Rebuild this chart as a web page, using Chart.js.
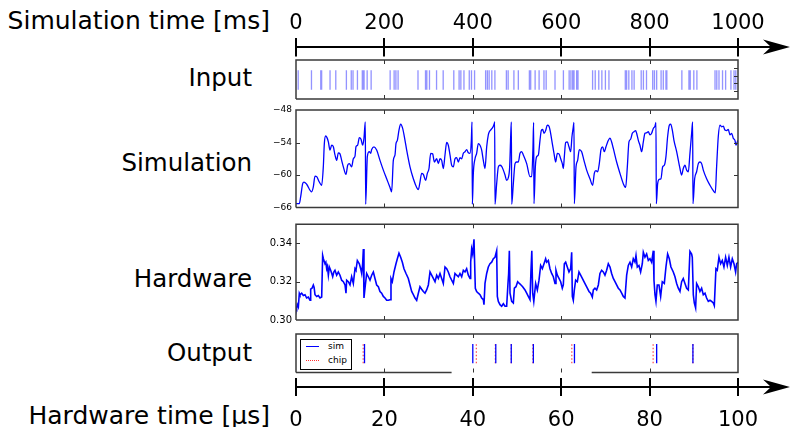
<!DOCTYPE html>
<html><head><meta charset="utf-8">
<script src="https://cdn.jsdelivr.net/npm/chart.js@4.4.0/dist/chart.umd.min.js"></script>
<style>
html,body{margin:0;padding:0;background:#fff;}
body{width:791px;height:427px;overflow:hidden;position:relative;font-family:"DejaVu Sans",sans-serif;color:#000;}
canvas{position:absolute;left:0;}
.lbl{position:absolute;right:539px;font-size:24.5px;line-height:24px;white-space:nowrap;}
.ttl{position:absolute;right:521px;font-size:25px;line-height:24px;white-space:nowrap;}
#leg{position:absolute;left:300px;top:339px;width:50px;height:29px;border:1px solid #000;background:#fff;font-size:9px;line-height:9px;}
#leg .s{position:absolute;left:5px;width:13px;height:0;}
#leg .t{position:absolute;left:27px;}
</style></head><body>

<div class="ttl" style="top:9px">Simulation time [ms]</div>
<div class="lbl" style="top:66px">Input</div>
<div class="lbl" style="top:151px">Simulation</div>
<div class="lbl" style="top:267px">Hardware</div>
<div class="lbl" style="top:341px">Output</div>
<div class="ttl" style="top:404px">Hardware time [µs]</div>

<canvas id="cTop" width="791" height="62" style="top:0px"></canvas>
<canvas id="cIn" width="791" height="50" style="top:54px"></canvas>
<canvas id="cSim" width="791" height="120" style="top:100px"></canvas>
<canvas id="cHw" width="791" height="116" style="top:214px"></canvas>
<canvas id="cOut" width="791" height="50" style="top:328px"></canvas>
<canvas id="cBot" width="791" height="57" style="top:370px"></canvas>

<div id="leg">
  <div class="s" style="top:6px;border-top:1.3px solid #0000ff"></div><span class="t" style="top:2px">sim</span>
  <div class="s" style="top:20px;border-top:1.2px dotted #ff3030"></div><span class="t" style="top:16px">chip</span>
</div>

<script>
// ---------------- DATA ----------------
const topTicks = [0, 200, 400, 600, 800, 1000];      // simulation time [ms]
const botTicks = [0, 20, 40, 60, 80, 100];           // hardware time [µs]
const simTicks = [-66, -60, -54, -48];               // membrane potential (simulation)
const hwTicks  = [0.30, 0.32, 0.34];                 // hardware membrane voltage

// input spike times [ms]
const inputSpikes = [5,35,56,58,77,90,114,125,129,139,150,152,154,161,170,213,222,226,231,276,293,296,302,318,333,
  357,369,373,380,392,397,404,429,433,437,443,450,476,480,493,503,528,531,541,550,561,566,586,605,618,622,626,629,635,638,
  671,677,685,692,700,708,745,748,753,760,765,781,786,793,807,811,816,826,831,837,839,873,889,892,900,907,948,952,957,965,972,984,991,995];

// output spikes [µs]
const outSim  = [15.5, 40.0, 45.2, 48.7, 53.7, 63.0, 81.6, 89.8];
const outChip = [15.2, 40.8, 45.1, 48.7, 53.6, 62.4, 80.8, 89.8];

// simulated membrane potential: [time ms, mV]
const simTrace = [[0,-65.3],[7.5,-65.3],[10.6,-64.0],[15.1,-61.6],[18.1,-61.3],[24.1,-61.7],[35.4,-63.1],[39.2,-62.2],[43.0,-60.2],[46.8,-60.3],[52.8,-61.3],[58.1,-61.9],[61.8,-58.5],[64.1,-54.2],[67.1,-52.8],[70.1,-53.1],[73.2,-53.9],[76.9,-55.4],[80.7,-54.5],[84.5,-54.8],[88.2,-56.3],[92.0,-57.3],[95.8,-55.9],[99.5,-56.1],[103.3,-57.3],[107.1,-58.5],[113.1,-59.9],[116.9,-58.2],[120.7,-57.9],[125.9,-58.5],[129.7,-57.0],[133.5,-56.5],[135.7,-54.8],[139.5,-54.5],[143.3,-53.1],[147.1,-53.4],[150.8,-54.5],[153.8,-53.2],[156.8,-50.2],[157.6,-65.4],
[161.4,-56.6],[165.9,-55.7],[168.9,-56.0],[171.2,-55.3],[176.5,-54.8],[182.5,-55.4],[190.0,-57.3],[197.6,-59.1],[205.1,-60.7],[212.7,-62.3],[216.4,-63.1],[220.2,-57.3],[224.0,-56.3],[226.2,-54.2],[229.3,-53.6],[233.0,-51.7],[236.8,-50.6],[241.3,-51.4],[246.6,-53.6],[250.4,-55.4],[257.9,-58.5],[265.5,-60.7],[273.0,-62.3],[276.8,-62.7],[280.5,-61.3],[284.3,-59.7],[288.1,-59.9],[293.4,-61.0],[297.1,-59.7],[300.9,-58.8],[304.7,-56.0],[309.2,-56.1],[313.0,-57.6],[318.3,-57.0],[322.0,-57.9],[325.8,-57.0],[329.6,-57.3],[333.3,-58.8],[337.1,-56.3],[340.9,-54.0],[344.6,-54.5],[348.4,-56.3],[352.2,-58.2],[356.0,-58.5],[359.7,-57.0],[363.5,-56.8],[367.3,-57.6],[371.0,-56.8],[374.8,-57.0],[378.6,-56.0],[382.4,-55.7],[386.1,-55.3],[389.9,-55.9],[393.7,-56.0],[396.7,-53.6],[398.2,-50.2],[399.0,-65.4],
[401.2,-59.7],[405.0,-57.0],[408.7,-56.0],[412.5,-54.2],[416.3,-54.5],[420.1,-55.4],[423.8,-57.3],[427.6,-58.8],[431.4,-54.8],[435.1,-52.6],[437.4,-52.0],[440.4,-51.7],[443.4,-51.4],[446.5,-51.0],[448.7,-50.5],[449.5,-50.2],[450.2,-65.4],
[454.0,-61.6],[457.8,-58.5],[461.5,-58.2],[465.3,-58.4],[469.1,-59.1],[472.9,-60.0],[476.6,-61.0],[480.4,-60.5],[483.4,-58.5],[485.7,-52.9],[487.2,-50.2],[488.0,-65.4],
[491.7,-61.6],[495.5,-57.9],[499.2,-57.6],[503.0,-57.6],[506.8,-56.0],[510.6,-55.7],[514.3,-56.3],[521.9,-57.9],[529.4,-60.3],[533.2,-60.3],[536.0,-55.4],[537.6,-50.3],[538.4,-65.3],
[541.5,-58.5],[544.5,-56.6],[548.3,-56.3],[552.0,-53.6],[555.0,-51.8],[558.1,-51.6],[561.1,-52.3],[564.8,-51.8],[568.6,-50.8],[572.4,-51.0],[576.1,-52.3],[579.9,-54.2],[583.7,-56.0],[587.5,-57.6],[591.2,-56.0],[595.0,-56.1],[598.8,-57.0],[602.5,-57.9],[604.8,-58.8],[607.1,-56.6],[610.1,-54.0],[613.8,-53.9],[617.6,-54.8],[621.4,-55.7],[624.4,-52.9],[627.4,-51.1],[628.9,-50.3],[629.7,-65.3],
[633.5,-58.5],[637.2,-57.3],[641.0,-55.3],[646.3,-55.7],[651.5,-57.3],[657.6,-59.1],[665.1,-60.7],[671.2,-61.9],[674.9,-59.7],[678.7,-59.2],[682.5,-59.4],[686.2,-57.9],[690.0,-55.3],[693.8,-54.8],[697.5,-55.7],[701.3,-54.8],[705.1,-53.9],[710.4,-53.2],[714.1,-53.9],[717.9,-55.1],[725.4,-57.6],[733.0,-59.7],[740.5,-61.6],[745.8,-62.3],[749.6,-58.5],[753.3,-53.9],[757.1,-53.4],[760.9,-52.3],[764.6,-52.0],[768.4,-51.8],[770.7,-52.3],[774.5,-53.6],[778.2,-54.5],[782.0,-55.7],[785.8,-53.9],[789.5,-52.3],[793.3,-52.2],[797.1,-52.0],[800.8,-52.6],[804.6,-52.3],[808.4,-51.4],[812.2,-51.0],[814.4,-50.3],[815.2,-65.3],
[818.2,-61.6],[821.9,-60.8],[825.7,-60.7],[829.5,-58.5],[833.3,-58.2],[837.0,-56.6],[840.8,-52.9],[844.6,-50.8],[847.6,-50.6],[851.4,-51.7],[855.1,-53.6],[861.2,-55.7],[868.7,-58.8],[872.5,-60.0],[876.2,-58.8],[880.0,-58.2],[883.8,-59.1],[887.6,-59.4],[891.3,-56.0],[895.1,-52.3],[897.4,-50.2],[898.1,-65.3],
[901.9,-60.7],[906.4,-59.4],[910.2,-57.9],[913.9,-57.6],[917.7,-57.9],[921.5,-59.1],[929.0,-60.7],[936.6,-61.9],[944.1,-62.9],[948.6,-63.3],[951.6,-58.5],[955.4,-52.9],[959.2,-50.8],[962.9,-51.1],[966.7,-51.0],[970.5,-51.7],[974.3,-51.8],[978.0,-51.6],[981.8,-52.6],[985.6,-52.3],[989.3,-53.2],[993.1,-53.6],[995.4,-54.5],[998.4,-53.9],[1000,-53.6]];

// hardware membrane voltage: [time ms (scaled), V]
const hwTrace = [[0,0.3072],[1.5,0.3063],[3,0.3080],[5.3,0.3068],[7.5,0.3140],[9,0.3132],[12.8,0.3140],[16.6,0.3128],[20.4,0.3132],[24.1,0.3115],[27.9,0.3120],[31.7,0.3103],[33.2,0.3161],[36.2,0.3166],[39.2,0.3183],[41,0.3170],[43,0.3132],[46.8,0.3123],[50.5,0.3128],[54.3,0.3115],[58.1,0.3120],[60.3,0.3337],[62,0.3320],[65.6,0.3294],[67.5,0.3302],[69.4,0.3268],[71,0.3280],[73.2,0.3234],[75.4,0.3277],[78.4,0.3260],[80.5,0.3245],[83,0.3226],[85.5,0.3250],[88.2,0.3260],[92,0.3234],[95.8,0.3251],[99.5,0.3234],[103.3,0.3208],[107.1,0.3200],[110.9,0.3183],[113.1,0.3140],[114.6,0.3208],[118.4,0.3200],[122.2,0.3183],[125.9,0.3226],[129.7,0.3191],[133.5,0.3268],[135.7,0.3260],[138.8,0.3311],[143.3,0.3294],[146.3,0.3268],[148.6,0.3243],[150.8,0.3294],[152.4,0.3371],[153.8,0.3115],
[156.9,0.3183],[159.9,0.3243],[163.7,0.3226],[167.4,0.3208],[171.2,0.3234],[175,0.3251],[178.7,0.3217],[182.5,0.3183],[186.3,0.3174],[190,0.3149],[193.8,0.3140],[197.6,0.3123],[201.4,0.3115],[205.1,0.3103],[208.9,0.3103],[212.7,0.3106],[214.9,0.3217],[217.9,0.3200],[221.7,0.3251],[226.2,0.3294],[229.3,0.3320],[233,0.3349],[236.8,0.3328],[240.6,0.3302],[244.3,0.3268],[248.9,0.3243],[254.1,0.3217],[257.9,0.3183],[261.7,0.3149],[265.5,0.3132],[269.2,0.3115],[273,0.3103],[276.8,0.3140],[280.5,0.3174],[284.3,0.3161],[288.1,0.3149],[291.9,0.3140],[295.6,0.3157],[299.4,0.3183],[303.2,0.3251],[306.9,0.3234],[310.7,0.3217],[314.5,0.3200],[318.3,0.3234],[322,0.3217],[325.8,0.3243],[329.6,0.3217],[333.3,0.3191],[337.1,0.3277],[340.9,0.3268],[344.6,0.3251],[348.4,0.3226],[352.2,0.3208],[356,0.3191],[359.7,0.3243],[363.5,0.3234],[367.3,0.3226],[371,0.3243],[374.8,0.3226],[378.6,0.3260],[382.4,0.3251],[386.1,0.3268],[389.9,0.3234],[393.7,0.3217],[395.2,0.3302],[397.4,0.3371],[399.7,0.3345],[402.7,0.3422],[405.7,0.3166],
[408.7,0.3149],[412.5,0.3140],[416.3,0.3132],[420.1,0.3115],[423.8,0.3106],[425.3,0.3080],[427.6,0.3191],[431.4,0.3243],[435.1,0.3277],[438.9,0.3294],[442.7,0.3302],[446.5,0.3320],[450.2,0.3328],[454,0.3362],[455.5,0.3123],[457.8,0.3097],[461.5,0.3080],[465.3,0.3072],[469.1,0.3085],[472.9,0.3072],[476.6,0.3072],[479.6,0.3191],[481.1,0.3243],[482.7,0.3362],[484.2,0.3140],[487.9,0.3097],[491.7,0.3089],[494,0.3166],[497.7,0.3174],[501.5,0.3200],[505.3,0.3191],[509.1,0.3183],[512.8,0.3174],[518.1,0.3157],[521.9,0.3140],[525.6,0.3123],[529.4,0.3106],[531.5,0.3250],[533.5,0.3362],[535.5,0.3140],[538,0.3097],
[542.2,0.3191],[546,0.3157],[549.8,0.3208],[553.5,0.3285],[557.3,0.3268],[561.1,0.3294],[564.8,0.3320],[567.1,0.3302],[570.9,0.3311],[574.6,0.3268],[578.4,0.3243],[582.2,0.3226],[586,0.3191],[588.2,0.3260],[591.2,0.3234],[595,0.3217],[598.8,0.3200],[602.5,0.3166],[604.8,0.3183],[607.1,0.3294],[610.1,0.3302],[613.8,0.3277],[617.6,0.3251],[621.4,0.3268],[623.7,0.3354],[625.2,0.3123],[627.4,0.3103],[629.7,0.3157],[632.7,0.3208],[636.5,0.3200],[640.2,0.3251],[644,0.3234],[647.8,0.3217],[651.5,0.3200],[655.3,0.3183],[659.1,0.3166],[662.9,0.3149],[666.6,0.3140],[670.4,0.3120],[672.7,0.3157],[676.4,0.3166],[680.2,0.3157],[684,0.3183],[687.7,0.3243],[691.5,0.3260],[695.3,0.3251],[699,0.3234],[702.8,0.3260],[706.6,0.3294],[710.4,0.3277],[714.1,0.3243],[717.9,0.3217],[721.7,0.3200],[725.4,0.3183],[729.2,0.3166],[733,0.3157],[736.8,0.3140],[740.5,0.3123],[744.3,0.3115],[748.1,0.3234],[751.8,0.3285],[755.6,0.3302],[759.4,0.3277],[763.1,0.3320],[766.9,0.3302],[769.2,0.3337],[772.2,0.3277],[775.9,0.3285],[779.7,0.3251],[783.5,0.3294],[785.8,0.3354],[789.5,0.3328],[793.3,0.3345],[797.1,0.3311],[800.8,0.3320],[804.6,0.3302],[808.4,0.3362],[809.9,0.3208],[812.2,0.3132],[814.4,0.3097],
[817.4,0.3183],[821.2,0.3183],[825,0.3123],[828.7,0.3200],[833.3,0.3191],[837,0.3277],[840.8,0.3345],[844.6,0.3320],[848.3,0.3277],[853.6,0.3251],[857.4,0.3226],[861.2,0.3191],[864.9,0.3166],[868.7,0.3149],[872.5,0.3200],[876.2,0.3217],[880,0.3191],[883.8,0.3166],[887.6,0.3157],[891.3,0.3359],[895.1,0.3345],[896.6,0.3328],[898.9,0.3132],[901.1,0.3089],[904.1,0.3063],[906.4,0.3191],[910.2,0.3174],[913.9,0.3149],[917.7,0.3166],[921.5,0.3132],[925.3,0.3140],[929,0.3115],[932.8,0.3097],[936.6,0.3103],[940.3,0.3097],[944.1,0.3089],[946.4,0.3075],[950.1,0.3268],[953.1,0.3260],[956.9,0.3328],[960.7,0.3294],[964.5,0.3311],[968.2,0.3277],[972,0.3328],[975.8,0.3285],[979.5,0.3328],[983.3,0.3277],[987.1,0.3320],[990.9,0.3294],[994.6,0.3251],[996.9,0.3294],[1000,0.3302]];

// ---------------- RENDERING ----------------
const FONT = '"DejaVu Sans", sans-serif';
Chart.defaults.font.family = FONT;
Chart.defaults.color = '#000';
const RASTER_LO = 0.24, RASTER_HI = 0.74;

function rasterData(times) {
  const d = [];
  times.forEach(t => { d.push({x: t, y: RASTER_LO}, {x: t, y: RASTER_HI}, {x: t, y: null}); });
  return d;
}
const toXY = arr => arr.map(p => ({x: p[0], y: p[1]}));

const arrowPlugin = {
  id: 'arrowAxis',
  afterDraw(chart, args, o) {
    const a = chart.chartArea, ctx = chart.ctx;
    const y = o.side === 'top' ? a.top : a.bottom;
    const tip = chart.width - 1;
    ctx.save();
    ctx.strokeStyle = '#000'; ctx.lineWidth = 2;
    ctx.beginPath(); ctx.moveTo(a.right, y); ctx.lineTo(tip - 18, y); ctx.stroke();
    ctx.fillStyle = '#000';
    ctx.beginPath();
    ctx.moveTo(tip, y); ctx.lineTo(tip - 27, y - 7.5); ctx.lineTo(tip - 19, y); ctx.lineTo(tip - 27, y + 7.5);
    ctx.closePath(); ctx.fill();
    ctx.restore();
  }
};

const framePlugin = {
  id: 'frame',
  afterDatasetsDraw(chart, args, o) {
    const a = chart.chartArea, ctx = chart.ctx, xs = chart.scales.x, ys = chart.scales.y;
    ctx.save();
    ctx.strokeStyle = '#333'; ctx.lineWidth = 1;
    ctx.beginPath();
    (o.xTicks || []).forEach(v => {
      const px = Math.round(xs.getPixelForValue(v)) + 0.5;
      ctx.moveTo(px, a.top); ctx.lineTo(px, a.top + 4);
      ctx.moveTo(px, a.bottom); ctx.lineTo(px, a.bottom - 4);
    });
    (o.yTicksL || []).forEach(v => {
      const py = Math.round(ys.getPixelForValue(v)) + 0.5;
      ctx.moveTo(a.left, py); ctx.lineTo(a.left + 4, py);
    });
    (o.yTicksR || []).forEach(v => {
      const py = Math.round(ys.getPixelForValue(v)) + 0.5;
      ctx.moveTo(a.right, py); ctx.lineTo(a.right - 4, py);
    });
    ctx.stroke();
    ctx.strokeStyle = '#3a3a3a'; ctx.lineWidth = 1.5;
    ctx.beginPath();
    ctx.moveTo(a.left, a.bottom); ctx.lineTo(a.left, a.top); ctx.lineTo(a.right, a.top); ctx.lineTo(a.right, a.bottom);
    if (o.gap) {
      ctx.lineTo(xs.getPixelForValue(o.gap[1]), a.bottom);
      ctx.moveTo(xs.getPixelForValue(o.gap[0]), a.bottom);
    }
    ctx.lineTo(a.left, a.bottom);
    ctx.stroke();
    ctx.restore();
  }
};

function axisChart(id, max, ticks, side) {
  new Chart(document.getElementById(id), {
    type: 'scatter',
    data: {datasets: [{data: []}]},
    options: {
      animation: false, responsive: false, events: [],
      layout: {padding: {left: 296, right: 53, top: side === 'top' ? 0 : 8, bottom: side === 'top' ? 5.5 : 0}},
      plugins: {legend: {display: false}, tooltip: {enabled: false}, arrowAxis: {side: side}},
      scales: {
        x: {
          type: 'linear', position: side, min: 0, max: max,
          afterBuildTicks: s => { s.ticks = ticks.map(v => ({value: v})); },
          afterFit: s => { s.height = side === 'top' ? 47 : 40; },
          grid: {color: '#000', lineWidth: 2, tickLength: 9, drawOnChartArea: true},
          border: {display: true, color: '#000', width: 2},
          ticks: {color: '#000', font: {size: 21}, padding: side === 'top' ? 2 : 12, maxRotation: 0, autoSkip: false,
                  callback: v => String(v)}
        },
        y: {display: false, min: 0, max: 1}
      }
    },
    plugins: [arrowPlugin]
  });
}

function panelChart(id, datasets, yCfg, pad, frame) {
  const y = yCfg.show ? {
    min: yCfg.min, max: yCfg.max,
    afterBuildTicks: s => { s.ticks = yCfg.ticks.map(v => ({value: v})); },
    afterFit: s => { s.width = 46; },
    grid: {display: false, drawTicks: false}, border: {display: false},
    ticks: {font: {size: yCfg.size}, color: '#000', padding: 4, callback: yCfg.fmt}
  } : {display: false, min: yCfg.min, max: yCfg.max};
  new Chart(document.getElementById(id), {
    type: 'line',
    data: {datasets: datasets},
    options: {
      animation: false, responsive: false, events: [],
      layout: {padding: {left: yCfg.show ? 250 : 296, right: 53, top: pad[0], bottom: pad[1]}},
      plugins: {legend: {display: false}, tooltip: {enabled: false}, frame: frame},
      elements: {point: {radius: 0}},
      scales: {
        x: {type: 'linear', display: false, min: 0, max: frame.xMax},
        y: y
      }
    },
    plugins: [framePlugin]
  });
}

axisChart('cTop', 1000, topTicks, 'top');
axisChart('cBot', 100, botTicks, 'bottom');

panelChart('cIn', [{
  data: rasterData(inputSpikes), borderColor: 'rgba(40,40,255,0.5)', borderWidth: 1.3, spanGaps: false
}], {show: false, min: 0, max: 1}, [6, 5], {xMax: 1000, xTicks: [200, 400, 600, 800], yTicksR: [0.2, 0.4, 0.6, 0.8]});

panelChart('cSim', [{
  data: toXY(simTrace), borderColor: '#0000ff', borderWidth: 1.3, cubicInterpolationMode: 'monotone'
}], {show: true, min: -66, max: -48, ticks: simTicks, size: 9, fmt: v => (v < 0 ? '\u2212' : '') + Math.abs(v)},
  [10, 12.5], {xMax: 1000, xTicks: [200, 400, 600, 800], yTicksL: [-60, -54], yTicksR: [-60, -54]});

panelChart('cHw', [{
  data: toXY(hwTrace), borderColor: '#0000ff', borderWidth: 1.6
}], {show: true, min: 0.30, max: 0.35, ticks: hwTicks, size: 10, fmt: v => v.toFixed(2)},
  [10.3, 7.7], {xMax: 1000, xTicks: [200, 400, 600, 800], yTicksL: [0.32, 0.34], yTicksR: [0.32, 0.34]});

panelChart('cOut', [
  {label: 'sim', data: rasterData(outSim), borderColor: '#0000ff', borderWidth: 1.3, spanGaps: false},
  {label: 'chip', data: rasterData(outChip), borderColor: 'rgba(255,40,40,0.85)', borderWidth: 1.2, borderDash: [1.5, 2], spanGaps: false}
], {show: false, min: 0, max: 1}, [6, 5.5], {xMax: 100, xTicks: [20, 40, 60, 80], gap: [35.2, 66.9]});
</script>
</body></html>
